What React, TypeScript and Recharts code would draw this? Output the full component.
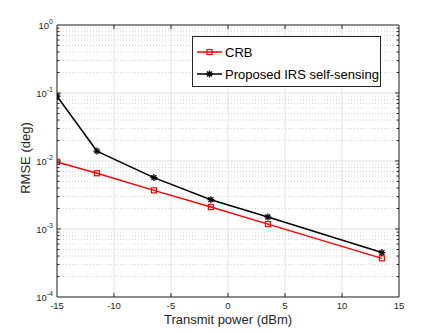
import React from 'react';
import { LineChart, Line, XAxis, YAxis, CartesianGrid, ReferenceLine } from 'recharts';

const txPower = [-15, -11.5, -6.5, -1.5, 3.5, 13.5];
const crb = [0.0097, 0.0066, 0.0037, 0.0021, 0.00118, 0.00037];
const proposed = [0.09, 0.014, 0.0057, 0.0027, 0.0015, 0.00045];

const xTicks = [-15, -10, -5, 0, 5, 10, 15];
const yTicks = [1e-4, 1e-3, 1e-2, 1e-1, 1];
const yMinor: number[] = [];
[-4, -3, -2, -1].forEach((d) => {
  for (let k = 2; k <= 9; k++) yMinor.push(k * Math.pow(10, d));
});

const data = txPower.map((x, i) => ({ x, crb: crb[i], proposed: proposed[i] }));

const FONT = '"Liberation Sans", Arial, Helvetica, sans-serif';
const AX = '#262626';
// tick lengths in data units (about 4 px)
const xTickLen = 0.35;
const yTickMul = Math.pow(10, 4 / 68);

const YTick = (props: any) => {
  const { x, y, payload } = props;
  const exp = Math.round(Math.log10(payload.value));
  return (
    <text x={x} y={y + 4} textAnchor="end" fontFamily={FONT} fontSize={9.5} fill={AX}>
      <tspan>10</tspan>
      <tspan dy={-5} fontSize={7}>{exp}</tspan>
    </text>
  );
};

const XTick = (props: any) => {
  const { x, y, payload } = props;
  return (
    <text x={x} y={y + 8} textAnchor="middle" fontFamily={FONT} fontSize={9.5} fill={AX}>
      {payload.value}
    </text>
  );
};

const Square = (props: any) => {
  const { cx, cy } = props;
  if (cx == null || cy == null) return null;
  return <rect x={cx - 2.5} y={cy - 2.5} width={5} height={5} fill="none" stroke="#ff0000" strokeWidth={1.2} />;
};

const Star = (props: any) => {
  const { cx, cy } = props;
  if (cx == null || cy == null) return null;
  const r = 3.5;
  const d = r * 0.7;
  return (
    <g stroke="#000" strokeWidth={1.3}>
      <line x1={cx - r} y1={cy} x2={cx + r} y2={cy} />
      <line x1={cx} y1={cy - r} x2={cx} y2={cy + r} />
      <line x1={cx - d} y1={cy - d} x2={cx + d} y2={cy + d} />
      <line x1={cx - d} y1={cy + d} x2={cx + d} y2={cy - d} />
    </g>
  );
};

const legendRows = [
  { label: 'CRB', color: '#ff0000', marker: 'sq', top: 15 },
  { label: 'Proposed IRS self-sensing', color: '#000', marker: 'st', top: 37 },
];

const LegendBox = () => (
  <div
    style={{
      position: 'absolute',
      left: 192,
      top: 36,
      width: 187,
      height: 49,
      border: '1px solid #262626',
      background: '#fff',
      fontFamily: FONT,
      fontSize: 13,
      color: '#000',
    }}
  >
    {legendRows.map((r) => (
      <div key={r.label} style={{ position: 'absolute', left: 3, top: r.top - 8, height: 16, display: 'flex', alignItems: 'center' }}>
        <svg width={27} height={16}>
          <line x1={1} y1={8} x2={26} y2={8} stroke={r.color} strokeWidth={1.5} />
          {r.marker === 'sq' ? <Square cx={13.5} cy={8} /> : <Star cx={13.5} cy={8} />}
        </svg>
        <span style={{ marginLeft: 2, whiteSpace: 'nowrap' }}>{r.label}</span>
      </div>
    ))}
  </div>
);

export default function App() {
  return (
    <div style={{ position: 'absolute', left: 0, top: 0, width: 442, height: 333, background: '#fff' }}>
      <LineChart width={442} height={333} data={data} margin={{ top: 25, right: 43, bottom: 0, left: 0 }}>
        <CartesianGrid stroke="#e3e3e3" strokeWidth={1} />
        {yMinor.map((v) => (
          <ReferenceLine key={'mg' + v} y={v} stroke="#d4d4d4" strokeDasharray="1 2" />
        ))}
        <XAxis
          dataKey="x"
          type="number"
          domain={[-15, 15]}
          ticks={xTicks}
          height={36}
          tickSize={0}
          tickMargin={4}
          tick={<XTick />}
          axisLine={{ stroke: AX }}
          tickLine={false}
          allowDataOverflow
        />
        <YAxis
          type="number"
          scale="log"
          domain={[1e-4, 1]}
          ticks={yTicks}
          width={57}
          tickSize={0}
          tickMargin={4}
          tick={<YTick />}
          axisLine={{ stroke: AX }}
          tickLine={false}
          allowDataOverflow
        />
        <ReferenceLine y={1} stroke={AX} ifOverflow="visible" />
        <ReferenceLine x={15} stroke={AX} ifOverflow="visible" />
        {xTicks.slice(1, -1).map((v) => (
          <ReferenceLine key={'xb' + v} stroke={AX} segment={[{ x: v, y: 1e-4 }, { x: v, y: 1e-4 * yTickMul }]} />
        ))}
        {xTicks.slice(1, -1).map((v) => (
          <ReferenceLine key={'xt' + v} stroke={AX} segment={[{ x: v, y: 1 / yTickMul }, { x: v, y: 1 }]} />
        ))}
        {[...yTicks.slice(1, -1), ...yMinor].map((v) => (
          <ReferenceLine key={'yl' + v} stroke={AX} segment={[{ x: -15, y: v }, { x: -15 + (yTicks.includes(v) ? xTickLen : xTickLen * 0.6), y: v }]} />
        ))}
        {[...yTicks.slice(1, -1), ...yMinor].map((v) => (
          <ReferenceLine key={'yr' + v} stroke={AX} segment={[{ x: 15 - (yTicks.includes(v) ? xTickLen : xTickLen * 0.6), y: v }, { x: 15, y: v }]} />
        ))}
        <Line
          dataKey="crb"
          stroke="#ff0000"
          strokeWidth={1.5}
          dot={<Square />}
          isAnimationActive={false}
        />
        <Line
          dataKey="proposed"
          stroke="#000000"
          strokeWidth={1.5}
          dot={<Star />}
          isAnimationActive={false}
        />
        <text x={228} y={324} textAnchor="middle" fontFamily={FONT} fontSize={13} fill={AX}>
          Transmit power (dBm)
        </text>
        <text x={30} y={158} textAnchor="middle" fontFamily={FONT} fontSize={13} fill={AX} transform="rotate(-90 30 158)">
          RMSE (deg)
        </text>
      </LineChart>
      <LegendBox />
    </div>
  );
}
